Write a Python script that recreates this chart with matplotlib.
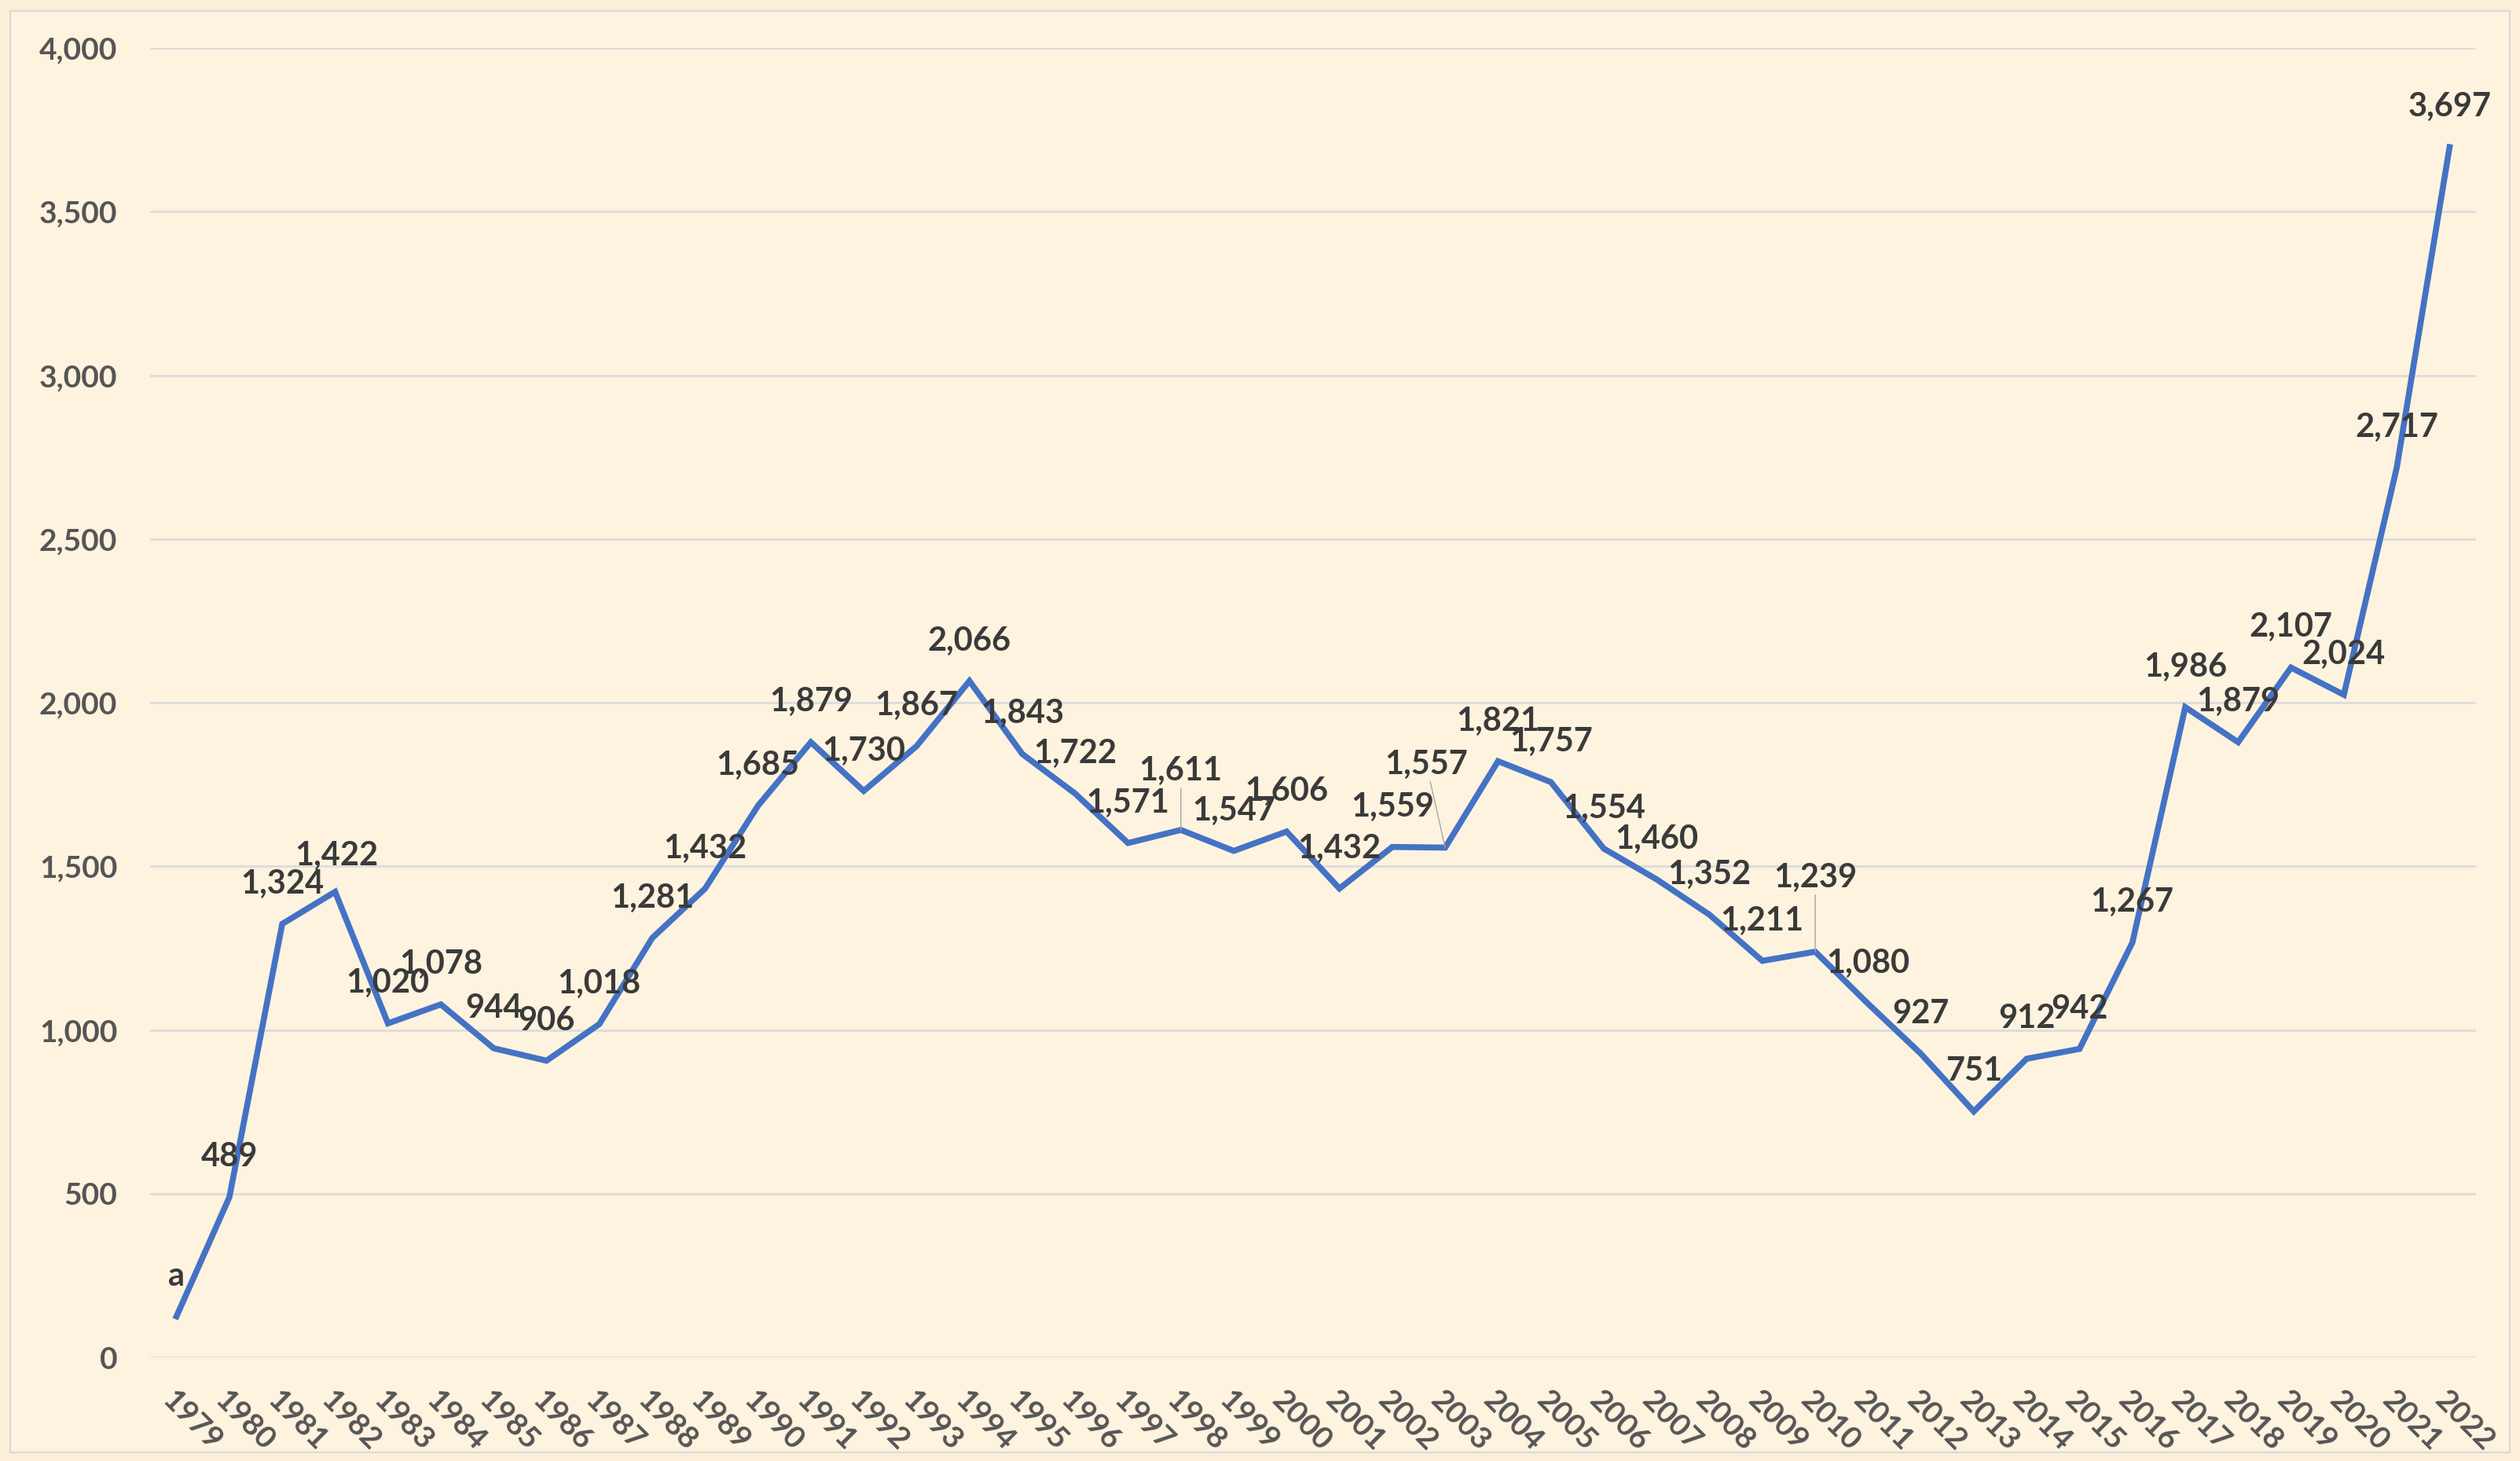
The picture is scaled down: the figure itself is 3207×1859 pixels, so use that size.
import matplotlib
matplotlib.use("Agg")
import matplotlib.pyplot as plt
from matplotlib.patches import Rectangle

# data
years = [str(y) for y in range(1979, 2023)]
values = [125, 489, 1324, 1422, 1020, 1078, 944, 906, 1018, 1281,
          1432, 1685, 1879, 1730, 1867, 2066, 1843, 1722, 1571, 1611,
          1547, 1606, 1432, 1559, 1557, 1821, 1757, 1554, 1460, 1352,
          1211, 1239, 1080, 927, 751, 912, 942, 1267, 1986, 1879,
          2107, 2024, 2717, 3697]
labels = ['a'] + [f'{v:,}' for v in values[1:]]
y_ticks = [0, 500, 1000, 1500, 2000, 2500, 3000, 3500, 4000]

# label offsets in pixels (dx, dy up) for labels that sit away from the default
special = {'1982': (2, 46), '1998': (0, 75), '2003': (-24, 106), '2010': (0, 94)}
leaders = {'1998', '2003', '2010'}

plt.rcParams['font.family'] = ['Lato', 'DejaVu Sans']

W, H, DPI = 3207, 1859, 100
fig = plt.figure(figsize=(W / DPI, H / DPI), dpi=DPI)
fig.patch.set_facecolor('#FBEFD7')

# outer chart frame
fig.patches.append(Rectangle((13 / W, 1 - 1848 / H), (3194 - 13) / W, (1848 - 14) / H,
                             transform=fig.transFigure, facecolor='#FDF3DF',
                             edgecolor='#D9D9D9', linewidth=1.5, zorder=-10))

ax = fig.add_axes([191 / W, 1 - 1727 / H, (3151 - 191) / W, (1727 - 61) / H])
ax.set_facecolor('none')

x = list(range(len(years)))
ax.plot(x, values, color='#4472C4', linewidth=5.5, solid_joinstyle='miter', zorder=3)

px = 72 / DPI  # pixels -> points
for i, (yr, v, lab) in enumerate(zip(years, values, labels)):
    dx, dy = special.get(yr, (0, 51))
    kw = {}
    if yr in leaders:
        kw['arrowprops'] = dict(arrowstyle='-', color='#A6A6A6', lw=1.0,
                                shrinkA=0, shrinkB=0)
    ax.annotate(lab, (i, v), xytext=(dx * px, dy * px), textcoords='offset points',
                ha='center', va='center', fontsize=30, fontweight='bold',
                color='#3A3A3A', zorder=4, **kw)

ax.set_xlim(-0.5, len(years) - 0.5)
ax.set_ylim(0, 4000)
ax.set_yticks(y_ticks)
ax.set_yticklabels([f'{t:,}' for t in y_ticks])
ax.set_xticks(x)
ax.set_xticklabels(years, rotation=-45, ha='left', va='top', rotation_mode='anchor')

ax.grid(axis='y', color='#DCDCDC', linewidth=2)
ax.set_axisbelow(True)
for s in ax.spines.values():
    s.set_visible(False)
ax.tick_params(axis='both', length=0, labelsize=28, labelcolor='#555555')
ax.tick_params(axis='y', pad=30)
ax.tick_params(axis='x', pad=26)
for t in ax.get_xticklabels() + ax.get_yticklabels():
    t.set_fontweight('bold')

fig.savefig('out.png', dpi=DPI, facecolor=fig.get_facecolor())
